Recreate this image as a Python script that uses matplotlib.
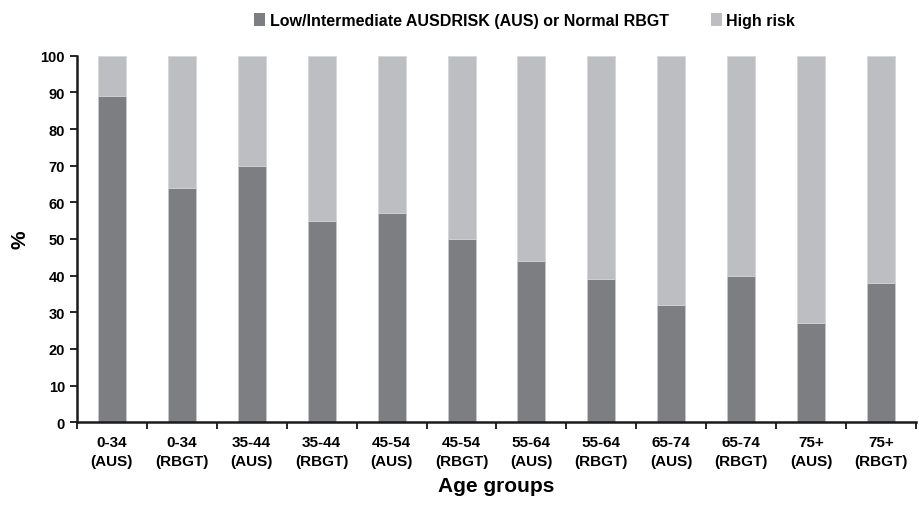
import matplotlib.pyplot as plt
import numpy as np
from matplotlib.patches import Patch

plt.rcParams["font.family"] = ["Liberation Sans", "DejaVu Sans"]
plt.rcParams["font.weight"] = "bold"
plt.rcParams["axes.labelweight"] = "bold"

categories = ["0-34\n(AUS)", "0-34\n(RBGT)", "35-44\n(AUS)", "35-44\n(RBGT)",
              "45-54\n(AUS)", "45-54\n(RBGT)", "55-64\n(AUS)", "55-64\n(RBGT)",
              "65-74\n(AUS)", "65-74\n(RBGT)", "75+\n(AUS)", "75+\n(RBGT)"]
low_risk = [89, 64, 70, 55, 57, 50, 44, 39, 32, 40, 27, 38]
high_risk = [100 - v for v in low_risk]

dark = "#7d7e82"
light = "#bdbec2"

fig = plt.figure(figsize=(9.19, 5.06), dpi=100)
ax = fig.add_axes([0.0835, 0.1634, 0.9135, 0.7246])

x = np.arange(len(categories))
ax.bar(x, low_risk, width=0.4, color=dark, edgecolor="#c8c9cc", linewidth=0.5)
ax.bar(x, high_risk, width=0.4, bottom=low_risk, color=light,
       edgecolor="#d3d4d7", linewidth=0.5)

ax.set_xlim(-0.5, len(categories) - 0.5)
ax.set_ylim(0, 100)
ax.set_yticks(range(0, 101, 10))
ax.tick_params(axis="y", labelsize=10.5, length=5, width=1.2, direction="out")

ax.set_xticks(np.arange(-0.5, len(categories), 1.0))
ax.set_xticklabels([])
ax.tick_params(axis="x", which="major", length=5, width=1.2, direction="out")
ax.set_xticks(x, minor=True)
ax.set_xticklabels(categories, minor=True, fontsize=11, linespacing=1.45)
ax.tick_params(axis="x", which="minor", length=0, pad=9)

for side in ("top", "right"):
    ax.spines[side].set_visible(False)
for side in ("left", "bottom"):
    ax.spines[side].set_linewidth(1.8)
    ax.spines[side].set_color("#1a1a1a")

ax.set_ylabel("%", fontsize=15, labelpad=8)
ax.set_xlabel("Age groups", fontsize=15, labelpad=6)

handles = [Patch(facecolor=dark, label="Low/Intermediate AUSDRISK (AUS) or Normal RBGT"),
           Patch(facecolor=light, label="High risk")]
fig.legend(handles=handles, loc="center", bbox_to_anchor=(0.571, 0.958), ncol=2,
           frameon=False, fontsize=11.5, handlelength=0.7, handleheight=0.9,
           handletextpad=0.3, columnspacing=2.6)

fig.savefig("out.png", dpi=100)
